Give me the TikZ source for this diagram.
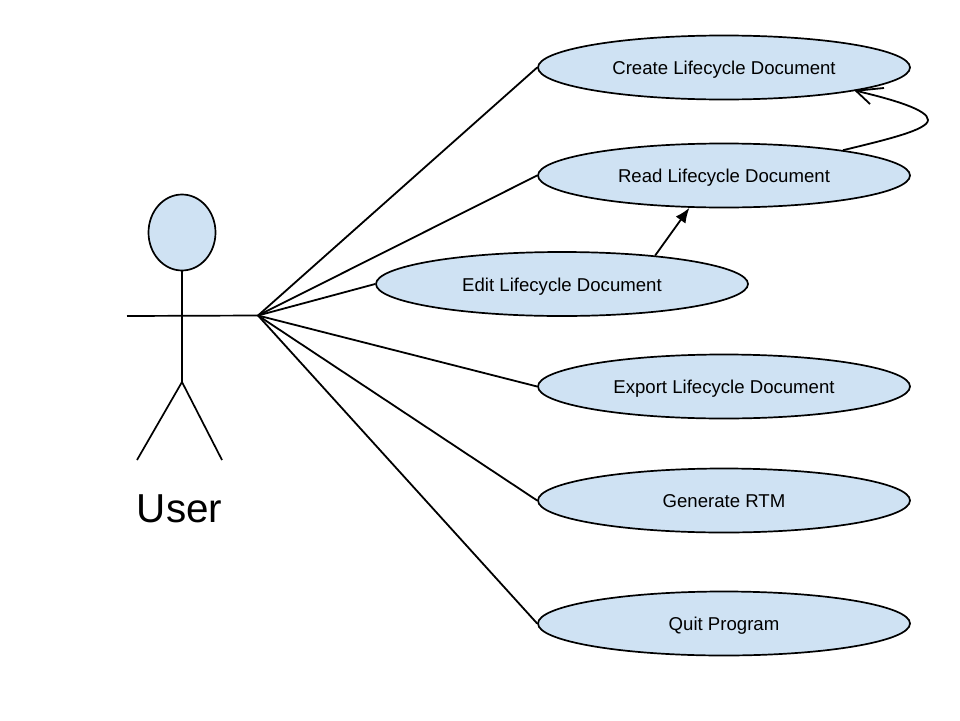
\documentclass[tikz,border=0pt]{standalone}
\usepackage{fontspec}
\setmainfont{Liberation Sans}
\usetikzlibrary{shapes.geometric,arrows.meta}
\definecolor{ucfill}{HTML}{CFE2F3}
\tikzset{
  x=1pt,y=-1pt,
  usecase/.style={ellipse,draw=black,fill=ucfill,line width=1.7pt,inner sep=0pt,minimum width=372pt,minimum height=64pt,text height=14pt,text depth=0pt,font=\fontsize{18.6}{20}\selectfont},
  link/.style={draw=black,line width=1.8pt},
  figure line/.style={draw=black,line width=1.7pt},
}
\begin{document}
\begin{tikzpicture}
\useasboundingbox (0,0) rectangle (960,720);
\node[usecase] (create) at (724,67.5) {Create Lifecycle Document};
\node[usecase] (read) at (724,175.5) {Read Lifecycle Document};
\node[usecase] (edit) at (562,284) {Edit Lifecycle Document};
\node[usecase] (export) at (724,386.5) {Export Lifecycle Document};
\node[usecase] (rtm) at (724,500.5) {Generate RTM};
\node[usecase] (quit) at (724,623.5) {Quit Program};
\node[ellipse,draw=black,fill=ucfill,line width=1.7pt,inner sep=0pt,minimum width=67pt,minimum height=76pt] (head) at (182,232.5) {};
\coordinate (handL) at (127,316);
\coordinate (hub) at (258,315.5);
\coordinate (crotch) at (182,382);
\coordinate (footL) at (137,460);
\coordinate (footR) at (222,460);
\node[font=\fontsize{40.4}{44}\selectfont,inner sep=0pt] (user) at (179.5,508.5) {User};
\draw[figure line] (handL) -- (hub);
\draw[figure line] (head.south) -- (crotch);
\draw[figure line] (footL) -- (crotch) -- (footR);
\foreach \t/\a in {create/west,read/west,edit/west,export/west,rtm/west,quit/west}
  \draw[link] (hub) -- (\t.\a);
\draw[link,-{Latex[length=15pt,width=12pt]}] (edit.17) -- (read.223.2);
\coordinate (bend) at (928,120);
\coordinate (barbA) at (884,88);
\coordinate (barbB) at (870,104);
\draw[link,line join=round] (read.12.75) .. controls (885,140) and (928,130) .. (bend) .. controls (928,110) and (895,100) .. (create.-10);
\draw[link] (barbA) -- (create.-10) -- (barbB);
\end{tikzpicture}
\end{document}
